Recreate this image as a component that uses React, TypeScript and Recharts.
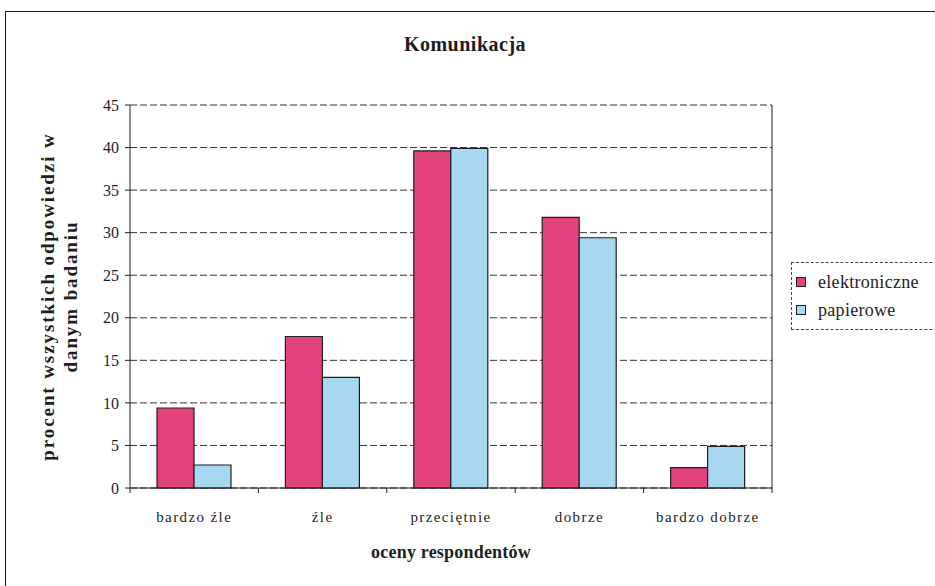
import { Bar, BarChart, CartesianGrid, XAxis, YAxis } from "recharts";

const categories = ["bardzo źle", "źle", "przeciętnie", "dobrze", "bardzo dobrze"];
const elektroniczne = [9.4, 17.8, 39.6, 31.8, 2.4];
const papierowe = [2.7, 13.0, 39.9, 29.4, 4.9];
const yTicks = [0, 5, 10, 15, 20, 25, 30, 35, 40, 45];
const seriesNames = ["elektroniczne", "papierowe"];

const FONT = "'Liberation Serif', 'Times New Roman', serif";
const PINK = "#e2437d";
const BLUE = "#a6d9f1";
const INK = "#1e1e1e";
const seriesColors = [PINK, BLUE];
const X_TICK_MARGIN = 23;

function YTitle(props: any) {
  const vb = props.viewBox ?? { x: 0, y: 0, width: 0, height: 0 };
  const cy = vb.y + vb.height / 2;
  const lines = [
    { x: 47, text: "procent wszystkich odpowiedzi w" },
    { x: 70, text: "danym badaniu" },
  ];
  return (
    <g>
      {lines.map((l) => (
        <text
          key={l.text}
          x={l.x} y={cy}
          transform={`rotate(-90 ${l.x} ${cy})`}
          textAnchor="middle" dominantBaseline="central"
          fontFamily={FONT} fontWeight="bold" fontSize={19} fill={INK}
          letterSpacing={1.9}
        >
          {l.text}
        </text>
      ))}
    </g>
  );
}

// category label + Excel-style tick marks between categories
function CategoryTick(props: any) {
  const { x, y, payload, index, visibleTicksCount, width } = props;
  const half = payload?.offset || width / visibleTicksCount / 2;
  const axisY = y - X_TICK_MARGIN;
  const last = index === visibleTicksCount - 1;
  return (
    <g>
      <line x1={x - half} x2={x - half} y1={axisY} y2={axisY + 5} stroke={INK} />
      {last && <line x1={x + half} x2={x + half} y1={axisY} y2={axisY + 5} stroke={INK} />}
      <text
        x={x} y={y} dy="0.71em" textAnchor="middle"
        fontFamily={FONT} fontSize={15} fill={INK} letterSpacing={1.4}
      >
        {payload.value}
      </text>
    </g>
  );
}

export default function App() {
  const data = categories.map((c, i) => ({
    ocena: c,
    elektroniczne: elektroniczne[i],
    papierowe: papierowe[i],
  }));

  return (
    <div
      style={{
        position: "fixed", left: 0, top: 0, width: 935, height: 586,
        background: "#fff", overflow: "hidden", fontFamily: FONT,
      }}
    >
      <div
        style={{
          position: "absolute", left: 5, top: 11, width: 960, height: 600,
          borderLeft: `1.5px solid ${INK}`, borderTop: `1.5px solid ${INK}`,
        }}
      />
      <div
        style={{
          position: "absolute", left: 0, width: 930, top: 33, textAlign: "center",
          fontWeight: "bold", fontSize: 20, color: INK, letterSpacing: 0.5,
        }}
      >
        Komunikacja
      </div>
      <div
        style={{
          position: "absolute", left: 0, width: 902, top: 542, textAlign: "center",
          fontWeight: "bold", fontSize: 18, color: INK, letterSpacing: 0.2,
        }}
      >
        oceny respondentów
      </div>

      <div style={{ position: "absolute", left: 0, top: 0 }}>
        <BarChart
          width={935} height={586} data={data}
          margin={{ top: 105, right: 163, bottom: 68, left: 70 }}
          barGap={0} barSize={37}
        >
          <CartesianGrid
            vertical={false} stroke="#333" strokeDasharray="7 3"
          />
          <CartesianGrid
            horizontal={false} stroke={INK}
            verticalCoordinatesGenerator={({ offset }: any) => [offset.left + offset.width]}
          />
          <XAxis
            dataKey="ocena" height={30} tickLine={false} tickSize={0}
            axisLine={{ stroke: INK, strokeWidth: 1.2 }}
            tick={<CategoryTick />}
            tickMargin={X_TICK_MARGIN} interval={0}
          />
          <YAxis
            width={60} domain={[0, 45]} ticks={yTicks} interval={0}
            axisLine={{ stroke: INK }} tickLine={{ stroke: INK }} tickSize={5}
            tickMargin={6}
            tick={{ fontFamily: FONT, fontSize: 16, fill: INK }}
            label={{ content: YTitle }}
          />
          <Bar
            dataKey="elektroniczne" fill={PINK} stroke={INK} strokeWidth={1.2}
            isAnimationActive={false}
          />
          <Bar
            dataKey="papierowe" fill={BLUE} stroke={INK} strokeWidth={1.2}
            isAnimationActive={false}
          />
        </BarChart>
      </div>

      <div
        style={{
          position: "absolute", left: 791, top: 262, width: 160,
          border: "1px dashed #444", padding: "5px 0 5px 4px",
          fontSize: 18, color: INK, background: "#fff",
        }}
      >
        {seriesNames.map((name, i) => (
          <div key={name} style={{ display: "flex", alignItems: "center", height: 28 }}>
            <span
              style={{
                display: "inline-block", width: 8, height: 8, marginRight: 12,
                background: seriesColors[i], border: `1px solid ${INK}`,
              }}
            />
            <span style={{ letterSpacing: 0.3 }}>{name}</span>
          </div>
        ))}
      </div>
    </div>
  );
}
